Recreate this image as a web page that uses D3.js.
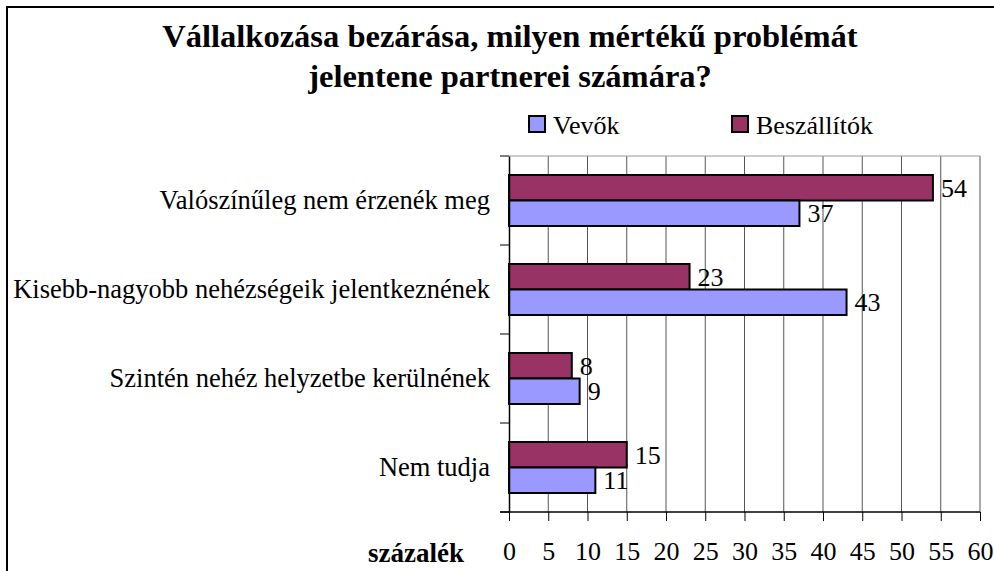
<!DOCTYPE html>
<html>
<head>
<meta charset="utf-8">
<script src="https://cdn.jsdelivr.net/npm/d3@7"></script>
<style>
  body { margin: 0; background: #fff; }
</style>
</head>
<body>
<div id="chart"></div>
<script>
const categories = ["Valószínűleg nem érzenék meg", "Kisebb-nagyobb nehézségeik jelentkeznének", "Szintén nehéz helyzetbe kerülnének", "Nem tudja"]
const beszallitok = [54, 23, 8, 15]
const vevok = [37, 43, 9, 11]
const seriesNames = ["Vevők", "Beszállítók"]
const seriesColors = ["#9999ff", "#993366"]
const xTicks = [0, 5, 10, 15, 20, 25, 30, 35, 40, 45, 50, 55, 60]
const titleLines = ["Vállalkozása bezárása, milyen mértékű problémát", "jelentene partnerei számára?"]
const axisTitle = "százalék"

const serif = "Liberation Serif"

let dimensions = {
    width: 994,
    height: 571,
    margin: { top: 156, right: 14, bottom: 59, left: 509 },
}
dimensions.boundedWidth = dimensions.width - dimensions.margin.left - dimensions.margin.right
dimensions.boundedHeight = dimensions.height - dimensions.margin.top - dimensions.margin.bottom

const svg = d3.select("#chart").append("svg")
    .attr("width", dimensions.width)
    .attr("height", dimensions.height)

// outer frame, runs off the right and bottom edge
svg.append("rect")
    .attr("x", 7).attr("y", 7)
    .attr("width", 1000).attr("height", 600)
    .attr("fill", "none").attr("stroke", "#000").attr("stroke-width", 2)

svg.selectAll(".title")
    .data(titleLines)
    .enter().append("text")
    .attr("x", 510)
    .attr("y", (d, i) => 47 + i * 40)
    .attr("text-anchor", "middle")
    .style("font-family", serif)
    .style("font-weight", "bold")
    .style("font-size", "32.5px")
    .text(d => d)

const bounds = svg.append("g")
    .attr("transform", `translate(${dimensions.margin.left},${dimensions.margin.top})`)

let x = d3.scaleLinear().domain([0, 60]).range([0, dimensions.boundedWidth])
let y = d3.scaleBand().domain(categories).range([0, dimensions.boundedHeight])

// gridlines
bounds.selectAll(".grid")
    .data(xTicks.slice(1))
    .enter().append("line")
    .attr("x1", d => x(d)).attr("x2", d => x(d))
    .attr("y1", 0).attr("y2", dimensions.boundedHeight)
    .attr("stroke", "#555")

bounds.append("line")
    .attr("x1", 0).attr("x2", dimensions.boundedWidth)
    .attr("stroke", "#999")

// bars
const barH = 25.5
const rows = categories.map((c, i) => ({ cat: c, b: beszallitok[i], v: vevok[i] }))
const groups = bounds.selectAll(".row")
    .data(rows)
    .enter().append("g")
    .attr("transform", d => `translate(0,${y(d.cat) + y.bandwidth() / 2})`)

groups.append("rect")
    .attr("y", -barH)
    .attr("width", d => x(d.b)).attr("height", barH)
    .attr("fill", seriesColors[1]).attr("stroke", "#000").attr("stroke-width", 2)

groups.append("rect")
    .attr("width", d => x(d.v)).attr("height", barH)
    .attr("fill", seriesColors[0]).attr("stroke", "#000").attr("stroke-width", 2)

groups.append("text")
    .attr("x", d => x(d.b) + 8).attr("y", -barH / 2 + 9)
    .style("font-family", serif).style("font-size", "26px")
    .text(d => d.b)

groups.append("text")
    .attr("x", d => x(d.v) + 8).attr("y", barH / 2 + 9)
    .style("font-family", serif).style("font-size", "26px")
    .text(d => d.v)

// axes
const xAxis = bounds.append("g")
    .attr("transform", `translate(0,${dimensions.boundedHeight})`)
    .call(d3.axisBottom(x).tickValues(xTicks).tickSize(9).tickPadding(21).tickSizeOuter(0))
xAxis.selectAll("text").style("font-family", serif).style("font-size", "26px")
xAxis.select(".domain").attr("stroke", "#000").attr("stroke-width", 1.5)
    .attr("d", `M-9,0H${dimensions.boundedWidth}`)

const yAxis = bounds.append("g")
    .call(d3.axisLeft(y).tickSize(0).tickPadding(19).tickSizeOuter(0))
yAxis.selectAll("text").style("font-family", serif).style("font-size", "26.5px")
yAxis.select(".domain").attr("stroke", "#000").attr("stroke-width", 1.5)

// ticks between categories
bounds.selectAll(".ytick")
    .data(d3.range(categories.length + 1))
    .enter().append("line")
    .attr("x1", -9).attr("x2", 0)
    .attr("y1", i => i * y.step()).attr("y2", i => i * y.step())
    .attr("stroke", "#000")

svg.append("text")
    .attr("x", 416).attr("y", 562)
    .attr("text-anchor", "middle")
    .style("font-family", serif)
    .style("font-weight", "bold")
    .style("font-size", "27px")
    .text(axisTitle)

// legend
const legend = svg.selectAll(".legend")
    .data(seriesNames)
    .enter().append("g")
    .attr("transform", (d, i) => `translate(${i === 0 ? 529 : 732},116)`)
legend.append("rect")
    .attr("width", 16).attr("height", 16)
    .attr("fill", (d, i) => seriesColors[i])
    .attr("stroke", "#000").attr("stroke-width", 2)
legend.append("text")
    .attr("x", 24).attr("y", 18)
    .style("font-family", serif).style("font-size", "26px")
    .text(d => d)
</script>
</body>
</html>
